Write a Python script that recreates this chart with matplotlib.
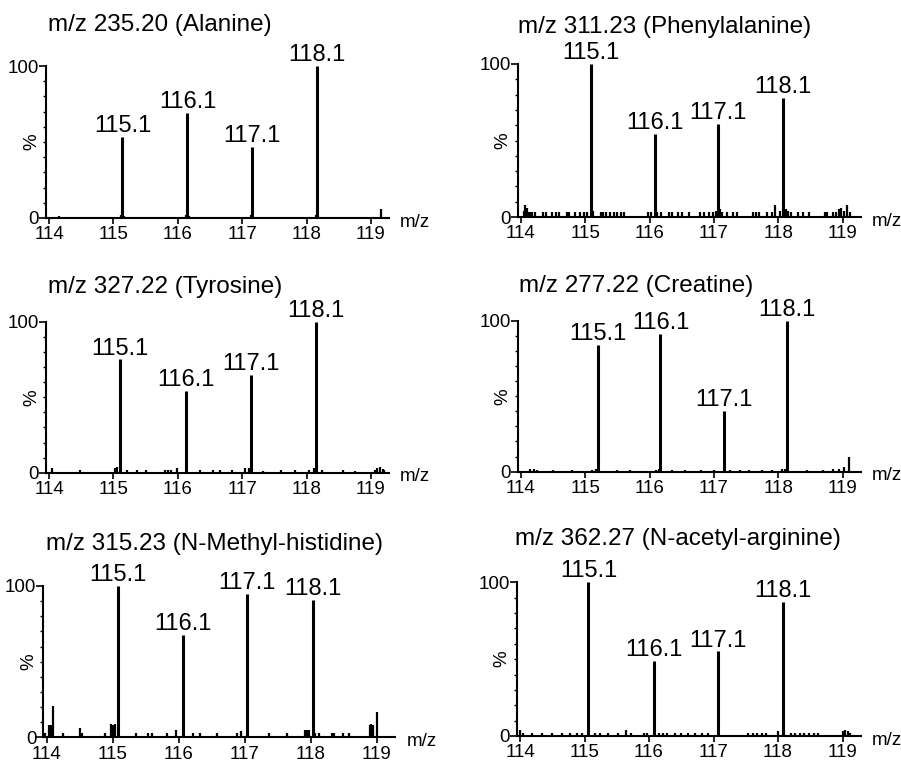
import matplotlib
matplotlib.use("Agg")
import matplotlib.pyplot as plt
from matplotlib.ticker import MultipleLocator, FixedLocator

plt.rcParams['font.family'] = ['Liberation Sans', 'DejaVu Sans']

# titres des spectres
titles = ["m/z 235.20 (Alanine)", "m/z 311.23 (Phenylalanine)",
          "m/z 327.22 (Tyrosine)", "m/z 277.22 (Creatine)",
          "m/z 315.23 (N-Methyl-histidine)", "m/z 362.27 (N-acetyl-arginine)"]

peak_labels = ["115.1", "116.1", "117.1", "118.1"]

# pics principaux (m/z, intensite %)
peak_mz = [
    [115.14, 116.15, 117.15, 118.16],
    [115.09, 116.08, 117.07, 118.07],
    [115.10, 116.12, 117.13, 118.14],
    [115.20, 116.17, 117.15, 118.13],
    [115.08, 116.06, 117.04, 118.03],
    [115.06, 116.07, 117.07, 118.07],
]
peak_int = [
    [53.5, 69, 46.5, 100],
    [100, 54.5, 61, 78],
    [75, 54, 64.5, 100],
    [84, 91.5, 40, 100],
    [100, 67.5, 94.5, 91],
    [100, 49, 55, 87],
]

# bruit de fond
noise_mz = [
    [114.15, 115.12, 115.16, 116.13, 116.17, 117.13, 117.17, 118.14, 118.18, 119.15],
    [114.05, 114.07, 114.09, 114.11, 114.15, 114.18, 114.22, 114.35, 114.40, 114.48,
     114.55, 114.60, 114.72, 114.75, 114.85, 114.92, 114.98, 115.03, 115.12, 115.25,
     115.28, 115.32, 115.38, 115.45, 115.50, 115.55, 115.60, 115.98, 116.02, 116.12,
     116.18, 116.30, 116.35, 116.45, 116.50, 116.62, 116.78, 116.85, 116.92, 116.98,
     117.03, 117.10, 117.13, 117.20, 117.30, 117.36, 117.60, 117.65, 117.70, 117.82,
     117.90, 117.95, 118.02, 118.12, 118.15, 118.20, 118.30, 118.38, 118.48, 118.72,
     118.75, 118.85, 118.90, 118.95, 118.98, 119.02, 119.07, 119.12],
    [114.05, 114.48, 115.02, 115.06, 115.21, 115.36, 115.51, 115.80, 115.85, 115.90,
     115.98, 116.34, 116.54, 116.65, 116.84, 117.05, 117.10, 117.33, 117.61, 117.82,
     118.03, 118.12, 118.24, 118.57, 118.75, 119.06, 119.10, 119.14, 119.18, 119.21],
    [114.15, 114.20, 114.25, 114.50, 114.80, 115.10, 115.17, 115.50, 115.70, 116.10,
     116.15, 116.35, 116.55, 116.80, 117.00, 117.25, 117.40, 117.55, 117.75, 117.90,
     118.05, 118.11, 118.45, 118.70, 118.85, 118.95, 119.02, 119.10],
    [113.97, 114.04, 114.06, 114.10, 114.25, 114.50, 114.54, 114.88, 114.98, 115.01,
     115.04, 115.36, 115.53, 115.60, 115.82, 115.96, 116.21, 116.33, 116.58, 116.89,
     116.95, 117.37, 117.64, 117.92, 117.95, 117.98, 118.06, 118.12, 118.32, 118.35,
     118.49, 118.58, 118.90, 118.92, 118.94, 119.00],
    [114.00, 114.05, 114.18, 114.34, 114.49, 114.65, 114.78, 114.88, 114.96, 115.16,
     115.24, 115.36, 115.52, 115.65, 115.72, 115.92, 115.97, 116.16, 116.22, 116.28,
     116.40, 116.50, 116.60, 116.72, 116.82, 116.92, 117.54, 117.61, 117.68, 117.75,
     117.82, 118.00, 118.20, 118.27, 118.34, 118.41, 118.48, 118.55, 118.62, 119.00,
     119.04, 119.08, 119.12],
]
noise_int = [
    [1, 2, 1.5, 2, 1.5, 2, 1.5, 2, 1.5, 6],
    [4, 8, 6, 3, 3, 3, 3, 3, 3, 3,
     3, 3, 3, 3, 3, 3, 3, 3, 4, 3,
     3, 3, 3, 3, 3, 3, 3, 3, 3, 3,
     3, 3, 3, 3, 3, 3, 3, 3, 3, 3,
     4, 5, 3, 3, 3, 3, 3, 3, 3, 3,
     3, 8, 4, 5, 4, 3, 3, 3, 3, 3,
     3, 3, 3, 5, 6, 4, 8, 3],
    [3, 1.5, 3, 4, 2, 1.5, 1.5, 1.5, 1.5, 1.5,
     3, 1.5, 1.5, 1.5, 1.5, 3, 3, 1, 1.5, 1.5,
     1.5, 3, 1.5, 2, 1, 2, 3, 4, 2.5, 2],
    [1.5, 1.5, 1, 1, 1, 1, 2, 1, 1, 1,
     2, 1, 1, 1, 1, 1, 1, 1, 1, 1,
     2, 2, 1, 1, 1.5, 2, 3, 9.5],
    [3, 8, 8, 21, 3, 6, 3, 3, 9, 8,
     9, 3, 3, 3, 3, 5, 3, 3, 3, 3,
     4, 3, 3, 5, 5, 5, 3, 3, 3, 3,
     3, 3, 8, 9, 8, 16.5],
    [4, 2, 2, 2, 2, 2, 2, 2, 2, 2,
     2, 2, 2, 4, 2, 2, 2, 2, 2, 2,
     2, 2, 2, 2, 2, 2, 2, 2, 2, 2,
     2, 3, 2, 2, 2, 2, 2, 2, 2, 3,
     4, 3, 2],
]

# position des axes en pixels (gauche, haut, largeur, bas)
W, H = 901, 768
axes_px = [
    (45.8, 66, 343.2, 218),
    (517.5, 64, 343.2, 217),
    (45.8, 321.7, 343.2, 472.7),
    (517.5, 320.7, 343.2, 471.7),
    (43.4, 586, 351.8, 737.3),
    (516.8, 582.3, 343.8, 736),
]
title_px = [(48, 31), (518, 33), (47.5, 293), (519, 292), (46, 550), (515, 545)]

fig = plt.figure(figsize=(W / 100, H / 100), dpi=100)

for i in range(6):
    l, t, w, b = axes_px[i]
    ax = fig.add_axes([l / W, 1 - b / H, w / W, (b - t) / H])
    ax.vlines(noise_mz[i], 0, noise_int[i], color='black', lw=1.6)
    ax.vlines(peak_mz[i], 0, peak_int[i], color='black', lw=2.2)
    for x, h, lab in zip(peak_mz[i], peak_int[i], peak_labels):
        ax.annotate(lab, xy=(x, h), xytext=(0, 3.5), textcoords='offset points',
                    ha='center', va='baseline', fontsize=17)
    ax.set_xlim(113.95, 119.28)
    ax.set_ylim(0, 100)
    for s in ['top', 'right']:
        ax.spines[s].set_visible(False)
    for s in ['left', 'bottom']:
        ax.spines[s].set_linewidth(1.5)
    ax.xaxis.set_major_locator(FixedLocator([114, 115, 116, 117, 118, 119]))
    ax.yaxis.set_major_locator(FixedLocator([0, 100]))
    ax.yaxis.set_minor_locator(MultipleLocator(10))
    ax.tick_params(axis='x', length=4, width=1.2, labelsize=13.5, pad=2)
    ax.tick_params(axis='y', which='major', length=5, width=1.2, labelsize=13.5, pad=0)
    ax.tick_params(axis='y', which='minor', length=2.3, width=1.0)
    ax.text(-0.042, 0.5, '%', transform=ax.transAxes, rotation=90,
            ha='center', va='center', fontsize=13.5)
    ax.annotate('m/z', xy=(1, 0), xycoords='axes fraction', xytext=(8, -3),
                textcoords='offset points', ha='left', va='center', fontsize=13.5)
    tx, ty = title_px[i]
    fig.text(tx / W, 1 - ty / H, titles[i], ha='left', va='baseline', fontsize=17.5)

plt.savefig("out.png", dpi=100)
plt.close()
